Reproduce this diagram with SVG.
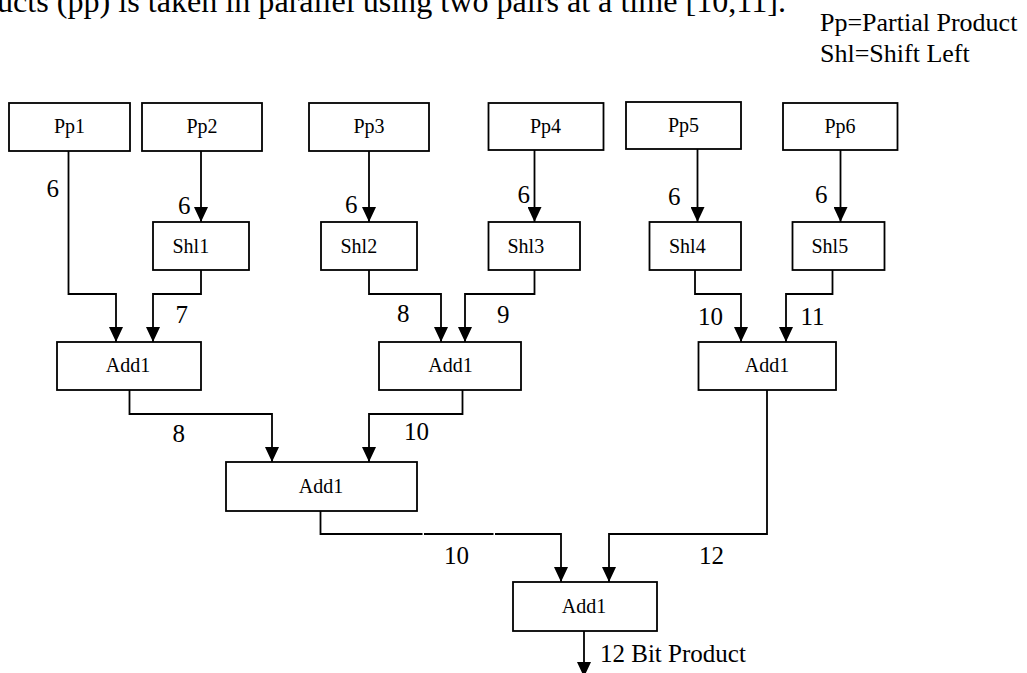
<svg xmlns="http://www.w3.org/2000/svg" width="1027" height="673" viewBox="0 0 1027 673">
  <style>
    text { font-family: "Liberation Serif", "Times New Roman", serif; fill: #000; }
    .box { fill: #fff; stroke: #000; stroke-width: 1.8; }
    .lbl { font-size: 20px; text-anchor: middle; }
    .shl { font-size: 20px; }
    .num { font-size: 25px; }
    .big { font-size: 26px; }
    .wire { fill: none; stroke: #000; stroke-width: 1.8; }
    .arrow { marker-end: url(#head); }
  </style>
  <defs>
    <marker id="head" markerUnits="userSpaceOnUse" markerWidth="15" markerHeight="14" viewBox="0 0 15 14" refX="15" refY="7" orient="auto">
      <path d="M0,0 L15,7 L0,14 Z" fill="#000"/>
    </marker>
  </defs>

  <rect x="0" y="0" width="1027" height="673" fill="#fff"/>

  <!-- running text and legend -->
  <text x="-3" y="12" font-size="32" textLength="789" lengthAdjust="spacingAndGlyphs">ucts (pp) is taken in parallel using two pairs at a time [10,11].</text>
  <g id="legend">
    <text class="big" x="820" y="31">Pp=Partial Product</text>
    <text class="big" x="820" y="62">Shl=Shift Left</text>
  </g>

  <!-- partial products -->
  <g id="pp1"><rect class="box" x="9" y="103" width="121" height="48"/><text class="lbl" x="69.5" y="133">Pp1</text></g>
  <g id="pp2"><rect class="box" x="142" y="103" width="120" height="48"/><text class="lbl" x="202" y="133">Pp2</text></g>
  <g id="pp3"><rect class="box" x="309" y="103" width="120" height="48"/><text class="lbl" x="369" y="133">Pp3</text></g>
  <g id="pp4"><rect class="box" x="488.5" y="103" width="115" height="47"/><text class="lbl" x="545.5" y="133">Pp4</text></g>
  <g id="pp5"><rect class="box" x="626" y="102" width="115" height="47"/><text class="lbl" x="683.5" y="132">Pp5</text></g>
  <g id="pp6"><rect class="box" x="783" y="103" width="114.5" height="47"/><text class="lbl" x="840" y="133">Pp6</text></g>

  <!-- shifters -->
  <g id="shl1"><rect class="box" x="153" y="222" width="96" height="48"/><text class="shl" x="172.5" y="253">Shl1</text></g>
  <g id="shl2"><rect class="box" x="321" y="222" width="96" height="48"/><text class="shl" x="340.5" y="253">Shl2</text></g>
  <g id="shl3"><rect class="box" x="488.5" y="222" width="91.5" height="48"/><text class="shl" x="507.5" y="253">Shl3</text></g>
  <g id="shl4"><rect class="box" x="649.5" y="222" width="91.5" height="48"/><text class="shl" x="669" y="253">Shl4</text></g>
  <g id="shl5"><rect class="box" x="792.5" y="222" width="92" height="48"/><text class="shl" x="811.5" y="253">Shl5</text></g>

  <!-- first adder stage -->
  <g id="add1a"><rect class="box" x="57" y="342" width="144" height="48"/><text class="lbl" x="128" y="372">Add1</text></g>
  <g id="add1b"><rect class="box" x="379" y="342" width="142" height="48"/><text class="lbl" x="450.5" y="372">Add1</text></g>
  <g id="add1c"><rect class="box" x="698.5" y="342" width="137.5" height="48"/><text class="lbl" x="767" y="372">Add1</text></g>

  <!-- second and final adder -->
  <g id="add2"><rect class="box" x="226" y="462" width="191" height="49"/><text class="lbl" x="321" y="493">Add1</text></g>
  <g id="add3"><rect class="box" x="513" y="582" width="144" height="49"/><text class="lbl" x="584" y="613">Add1</text></g>

  <!-- connectors -->
  <g id="wires">
    <path class="wire arrow" d="M68.5 151 V294 H116 V342"/>
    <path class="wire arrow" d="M201 151 V222"/>
    <path class="wire arrow" d="M201 270 V294 H153 V342"/>
    <path class="wire arrow" d="M369 151 V222"/>
    <path class="wire arrow" d="M369 270 V294 H441 V342"/>
    <path class="wire arrow" d="M534.5 150 V222"/>
    <path class="wire arrow" d="M534.5 270 V294 H465 V342"/>
    <path class="wire arrow" d="M697.5 149 V222"/>
    <path class="wire arrow" d="M695 270 V294 H741 V342"/>
    <path class="wire arrow" d="M840.5 150 V222"/>
    <path class="wire arrow" d="M832.5 270 V294 H786 V342"/>
    <path class="wire arrow" d="M129.5 390 V414 H272 V462"/>
    <path class="wire arrow" d="M462.5 390 V414 H369 V462"/>
    <path class="wire arrow" d="M320.5 511 V534 H422.5 M424 534 H493.5 M495 534 H561 V582"/>
    <path class="wire arrow" d="M767 390 V534 H609 V582"/>
    <path class="wire arrow" d="M584 631 V677"/>
  </g>

  <!-- bus widths -->
  <g id="widths" class="num">
    <text x="46.5" y="197">6</text>
    <text x="178" y="214">6</text>
    <text x="345" y="213">6</text>
    <text x="517.5" y="203">6</text>
    <text x="668" y="205">6</text>
    <text x="815" y="203">6</text>
    <text x="175.5" y="323">7</text>
    <text x="397" y="322">8</text>
    <text x="497" y="323">9</text>
    <text x="698" y="325">10</text>
    <text x="800.5" y="325">11</text>
    <text x="172.5" y="442">8</text>
    <text x="404" y="440">10</text>
    <text x="444" y="564">10</text>
    <text x="699" y="564">12</text>
    <text x="600" y="662">12 Bit Product</text>
  </g>
</svg>
